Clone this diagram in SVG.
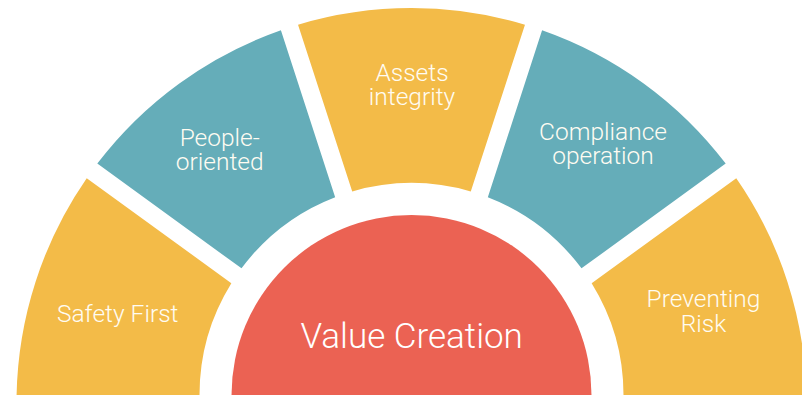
<svg xmlns="http://www.w3.org/2000/svg" width="802" height="395" viewBox="0 0 802 395">
<style>
.y{fill:#F3BB48}
.t{fill:#65ADB9}
.r{fill:#EB6253}
.lbl{font-family:Roboto,"Liberation Sans",Arial,sans-serif;font-weight:300;font-size:24.5px;fill:#FFFCF2;text-anchor:middle}
.big{font-family:Roboto,"Liberation Sans",Arial,sans-serif;font-weight:300;font-size:35px;fill:#FFFFFF;text-anchor:middle}
</style>
<rect width="802" height="395" fill="#FFFFFF"/>
<g id="safety-first">
<path class="y" d="M16.56 396 A395 395 0 0 1 86.73 178.16 L231.35 283.24 A212 212 0 0 0 199.5 396 Z"/>
<text class="lbl" x="117.7" y="321.7">Safety First</text>
</g>
<g id="people-oriented">
<path class="t" d="M97.31 163.6 A395 395 0 0 1 280.91 30.21 L335.17 197.21 A212 212 0 0 0 241.49 268.36 Z"/>
<text class="lbl" x="219.7" y="146.2">People-</text>
<text class="lbl" x="219.7" y="170.3">oriented</text>
</g>
<g id="assets-integrity">
<path class="y" d="M298.03 24.65 A395 395 0 0 1 524.97 24.65 L470.77 191.45 A212 212 0 0 0 352.23 191.45 Z"/>
<text class="lbl" x="412" y="80.6">Assets</text>
<text class="lbl" x="412" y="104.6">integrity</text>
</g>
<g id="compliance-operation">
<path class="t" d="M542.09 30.21 A395 395 0 0 1 725.69 163.6 L581.51 268.36 A212 212 0 0 0 487.83 197.21 Z"/>
<text class="lbl" x="603" y="140.3">Compliance</text>
<text class="lbl" x="603" y="164.3">operation</text>
</g>
<g id="preventing-risk">
<path class="y" d="M736.27 178.16 A395 395 0 0 1 806.44 396 L623.5 396 A212 212 0 0 0 591.65 283.24 Z"/>
<text class="lbl" x="703.5" y="307">Preventing</text>
<text class="lbl" x="703.5" y="331.8">Risk</text>
</g>
<g id="value-creation">
<circle class="r" cx="411.5" cy="395" r="180"/>
<text class="big" x="411.7" y="348.3">Value Creation</text>
</g>
<g id="connectors"></g>
</svg>
